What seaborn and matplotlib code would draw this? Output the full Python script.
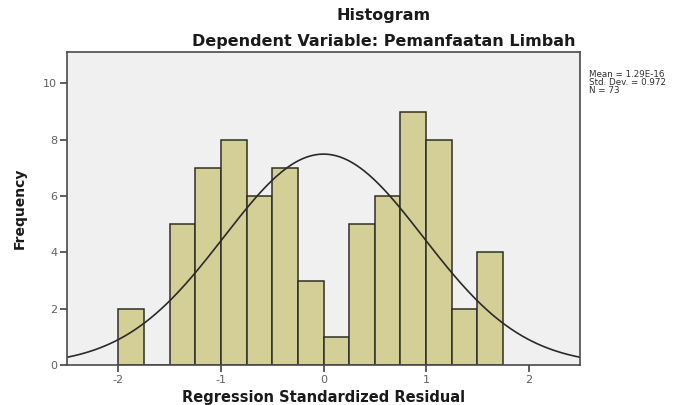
import numpy as np
import pandas as pd
import seaborn as sns
import matplotlib.pyplot as plt

# Histogram bins (bin width 0.25)
bin_left = [-2.0, -1.75, -1.5, -1.25, -1.0, -0.75, -0.5, -0.25,
            0.0, 0.25, 0.5, 0.75, 1.0, 1.25, 1.5]
counts = [2, 0, 5, 7, 8, 6, 7, 3, 1, 5, 6, 9, 8, 2, 4]
bin_width = 0.25

# Summary stats shown on the chart
mean_val = 1.29e-16
std_val = 0.972
n_obs = 73

x_ticks = [-2, -1, 0, 1, 2]
y_ticks = [0, 2, 4, 6, 8, 10]

# Colors
bar_color = "#D4CF96"
edge_color = "#2F2F25"
bg_color = "#F0F0F0"
tick_color = "#606060"

df = pd.DataFrame({"resid": [b + bin_width / 2 for b in bin_left], "count": counts})
edges = bin_left + [bin_left[-1] + bin_width]

sns.set_theme(style="ticks")
plt.rcParams["font.family"] = ["DejaVu Sans"]

fig = plt.figure(figsize=(6.93, 4.05), dpi=100)
ax = fig.add_axes([0.0967, 0.0988, 0.7403, 0.7716])
ax.set_facecolor(bg_color)

# Bars
sns.histplot(data=df, x="resid", weights="count", bins=edges,
             color=bar_color, edgecolor=edge_color, linewidth=1.1,
             alpha=1, ax=ax)

# Fitted normal curve (scaled to counts)
xs = np.linspace(-2.5, 2.5, 300)
ys = n_obs * bin_width * np.exp(-0.5 * ((xs - mean_val) / std_val) ** 2) / (std_val * np.sqrt(2 * np.pi))
sns.lineplot(x=xs, y=ys, color="#2A2A2A", linewidth=1.2, ax=ax)

ax.set_xlim(-2.5, 2.5)
ax.set_ylim(0, 11.1)
ax.set_xticks(x_ticks)
ax.set_yticks(y_ticks)
ax.set_xticklabels([str(t) for t in x_ticks])
ax.tick_params(axis="both", colors="#444444", labelcolor=tick_color,
               labelsize=8, length=5, width=1.2, pad=2)
for s in ax.spines.values():
    s.set_color("#4A4A4A")
    s.set_linewidth(1.2)

ax.set_xlabel("Regression Standardized Residual", fontsize=10.5, weight="bold",
              color="#1A1A1A", labelpad=4)
ax.set_ylabel("Frequency", fontsize=10, weight="bold", color="#1A1A1A", labelpad=12)

# Titles
fig.text(384 / 693, 1 - 20 / 405, "Histogram", ha="center", va="baseline",
         fontsize=11.5, weight="bold", color="#1A1A1A")
fig.text(384 / 693, 1 - 46 / 405, "Dependent Variable: Pemanfaatan Limbah",
         ha="center", va="baseline", fontsize=11.5, weight="bold", color="#1A1A1A")

# Stats box text
stats_lines = [f"Mean = {mean_val:.2E}", f"Std. Dev. = {std_val}", f"N = {n_obs}"]
for i, line in enumerate(stats_lines):
    fig.text(589 / 693, 1 - (77 + 8 * i) / 405, line, ha="left", va="baseline",
             fontsize=6.3, color="#303030")

fig.savefig("out.png", dpi=100)
